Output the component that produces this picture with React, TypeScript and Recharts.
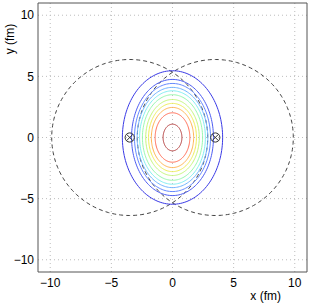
import React from 'react';
import { CartesianGrid, ReferenceLine, Scatter, ScatterChart, XAxis, YAxis } from 'recharts';

// axis ticks (fm)
const ticks = [-10, -5, 0, 5, 10];

// contour levels, outer -> inner: semi-axis in x, semi-axis in y, colour
const contourA = [4.1, 3.35, 3.11, 2.89, 2.69, 2.46, 2.19, 1.96, 1.73, 1.42, 0.77];
const contourB = [5.46, 4.75, 4.42, 4.1, 3.82, 3.5, 3.11, 2.79, 2.46, 2.02, 1.09];
const contourColors = [
  '#3a3ae6', '#4d5cf2', '#6488ff', '#72b4ff', '#84eef2', '#98f8b0',
  '#c4f77c', '#eeee58', '#ffb452', '#ff6a52', '#b33a3a',
];

// the two nuclei: centres and radius
const nucleusX = [-3.5, 3.5];
const nucleusR = 6.38;

const outline = (cx: number, a: number, b: number) => {
  const pts = [];
  const n = 160;
  for (let i = 0; i <= n; i++) {
    const t = (2 * Math.PI * i) / n;
    pts.push({ x: cx + a * Math.cos(t), y: b * Math.sin(t) });
  }
  return pts;
};

const centres = nucleusX.map(x => ({ x, y: 0 }));

const fmt = (v: number) => String(v).replace('-', '\u2212');
const font = '"Liberation Sans", Arial, sans-serif';

const Cross = (props: any) => {
  const { cx, cy } = props;
  const r = 4.6;
  const d = r * 0.7;
  return (
    <g stroke="#333" strokeWidth={1} fill="none">
      <circle cx={cx} cy={cy} r={r} />
      <line x1={cx - d} y1={cy - d} x2={cx + d} y2={cy + d} />
      <line x1={cx - d} y1={cy + d} x2={cx + d} y2={cy - d} />
    </g>
  );
};

const NoDot = () => <g />;

export default function App() {
  return (
    <div style={{ position: 'absolute', left: 0, top: 0, background: '#fff' }}>
      <ScatterChart width={311} height={305} margin={{ top: 3, right: 4, bottom: 8, left: 8 }}>
        <CartesianGrid stroke="#bdbdbd" strokeDasharray="1 3" horizontalValues={ticks} verticalValues={ticks} />
        <XAxis
          type="number"
          dataKey="x"
          domain={[-11, 11]}
          ticks={ticks}
          tickFormatter={fmt}
          allowDataOverflow
          height={25}
          stroke="#555"
          tickLine={false}
          tickSize={4}
          tickMargin={2}
          tick={{ fill: '#000', fontSize: 12, fontFamily: font }}
          label={{
            content: (p: any) => (
              <text x={281} y={300} textAnchor="end" fontSize={12} fontFamily={font} fill="#000">
                x (fm)
              </text>
            ),
          }}
        />
        <YAxis
          type="number"
          dataKey="y"
          domain={[-11, 11]}
          ticks={ticks}
          tickFormatter={fmt}
          allowDataOverflow
          width={30}
          stroke="#555"
          tickLine={false}
          tickSize={2}
          tickMargin={2}
          tick={{ fill: '#000', fontSize: 12, fontFamily: font }}
          label={{
            content: () => (
              <text
                x={14}
                y={39}
                transform="rotate(-90 14 39)"
                textAnchor="middle"
                fontSize={12}
                fontFamily={font}
                fill="#000"
              >
                y (fm)
              </text>
            ),
          }}
        />
        <ReferenceLine x={11} stroke="#555" />
        <ReferenceLine y={11} stroke="#555" />
        {nucleusX.map((cx, i) => (
          <Scatter
            key={`n${i}`}
            data={outline(cx, nucleusR, nucleusR)}
            line={{ stroke: '#444', strokeWidth: 1, strokeDasharray: '4 3' }}
            lineType="joint"
            shape={NoDot}
            isAnimationActive={false}
          />
        ))}
        {contourA.map((a, i) => (
          <Scatter
            key={`c${i}`}
            data={outline(0, a, contourB[i])}
            line={{ stroke: contourColors[i], strokeWidth: 1 }}
            lineType="joint"
            shape={NoDot}
            isAnimationActive={false}
          />
        ))}
        <Scatter data={centres} shape={Cross} isAnimationActive={false} />
      </ScatterChart>
    </div>
  );
}
